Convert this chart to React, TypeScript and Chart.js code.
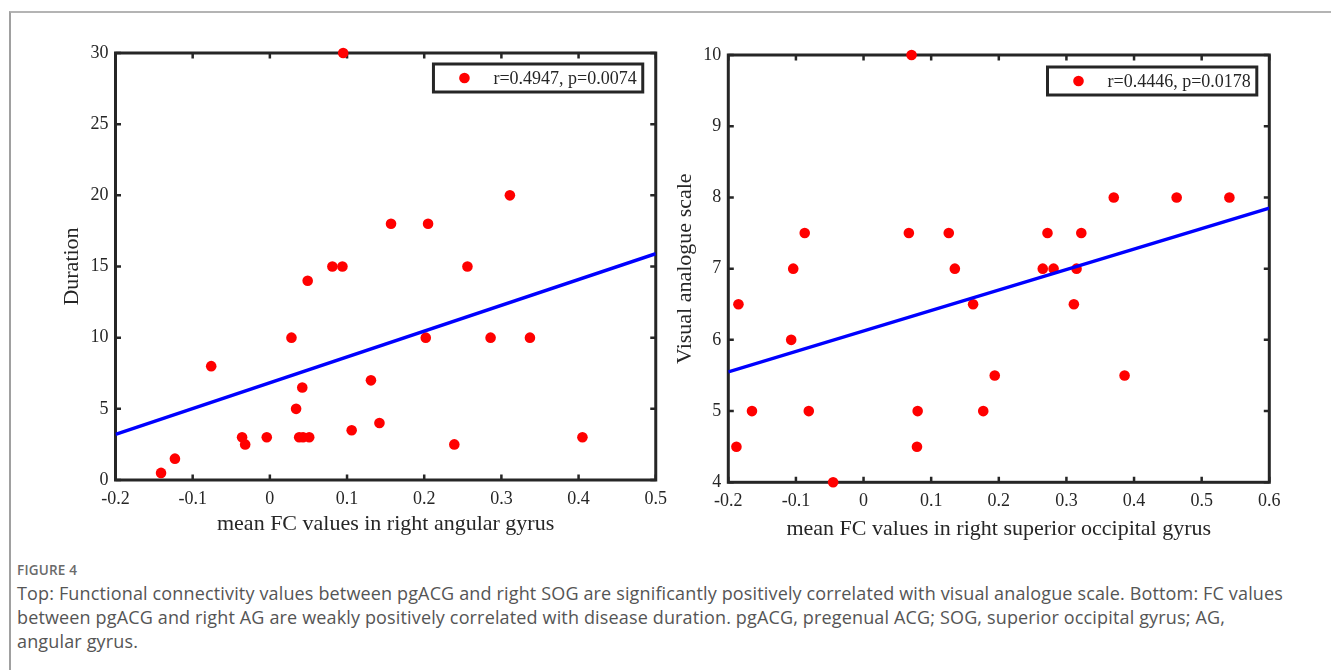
import React, { useEffect, useRef } from "react";
import { Chart, registerables } from "chart.js";

Chart.register(...registerables);

// ---- Left panel: mean FC in right angular gyrus vs Duration ----
const fcAngular = [
  -0.141, -0.123, -0.076, -0.036, -0.032, -0.004, 0.028, 0.034, 0.042, 0.038, 0.043, 0.051,
  0.049, 0.081, 0.094, 0.095, 0.106, 0.131, 0.142, 0.157, 0.202, 0.205, 0.239, 0.256, 0.286,
  0.311, 0.337, 0.405,
];
const duration = [
  0.5, 1.5, 8, 3, 2.5, 3, 10, 5, 6.5, 3, 3, 3, 14, 15, 15, 30, 3.5, 7, 4, 18, 10, 18, 2.5, 15,
  10, 20, 10, 3,
];
const fitAngularX = [-0.2, 0.5];
const fitAngularY = [3.2, 15.9];
const xTicksAngular = [-0.2, -0.1, 0, 0.1, 0.2, 0.3, 0.4, 0.5];
const yTicksDuration = [0, 5, 10, 15, 20, 25, 30];
const legendAngular = "r=0.4947, p=0.0074";

// ---- Right panel: mean FC in right superior occipital gyrus vs VAS ----
const fcSOG = [
  -0.188, -0.185, -0.165, -0.107, -0.104, -0.087, -0.081, -0.045, 0.067, 0.071, 0.079, 0.08,
  0.126, 0.135, 0.162, 0.177, 0.194, 0.265, 0.272, 0.281, 0.311, 0.315, 0.322, 0.37, 0.386,
  0.463, 0.541,
];
const vas = [
  4.5, 6.5, 5, 6, 7, 7.5, 5, 4, 7.5, 10, 4.5, 5, 7.5, 7, 6.5, 5, 5.5, 7, 7.5, 7, 6.5, 7, 7.5, 8,
  5.5, 8, 8,
];
const fitSOGX = [-0.2, 0.6];
const fitSOGY = [5.55, 7.85];
const xTicksSOG = [-0.2, -0.1, 0, 0.1, 0.2, 0.3, 0.4, 0.5, 0.6];
const yTicksVAS = [4, 5, 6, 7, 8, 9, 10];
const legendSOG = "r=0.4446, p=0.0178";

const SERIF = "'Liberation Serif', 'Times New Roman', serif";
const AXIS_COLOR = "#262626";

const framePlugin = {
  id: "matlabFrame",
  beforeDatasetsDraw(chart: any) {
    const { ctx, chartArea: a, scales } = chart;
    const x = scales.x;
    const y = scales.y;
    const L = 5.5;
    ctx.save();
    ctx.strokeStyle = AXIS_COLOR;
    ctx.lineWidth = 2.5;
    ctx.beginPath();
    x.ticks.forEach((t: any) => {
      const px = x.getPixelForValue(t.value);
      ctx.moveTo(px, a.bottom);
      ctx.lineTo(px, a.bottom - L);
      ctx.moveTo(px, a.top);
      ctx.lineTo(px, a.top + L);
    });
    y.ticks.forEach((t: any) => {
      const py = y.getPixelForValue(t.value);
      ctx.moveTo(a.left, py);
      ctx.lineTo(a.left + L, py);
      ctx.moveTo(a.right, py);
      ctx.lineTo(a.right - L, py);
    });
    ctx.stroke();
    ctx.lineWidth = 3;
    ctx.strokeRect(a.left, a.top, a.right - a.left, a.bottom - a.top);
    ctx.restore();
  },
};

const boxLegendPlugin = {
  id: "boxLegend",
  afterDraw(chart: any) {
    const opts = chart.options.plugins.boxLegend || {};
    const ds = chart.data.datasets[opts.datasetIndex ?? 0];
    if (!ds) return;
    const { ctx, chartArea: a } = chart;
    ctx.save();
    ctx.font = `18px ${SERIF}`;
    const tw = ctx.measureText(ds.label).width;
    const w = 60 + tw + 6;
    const h = 28;
    const right = a.right - (opts.offsetRight ?? 12);
    const left = right - w;
    const top = a.top + (opts.offsetTop ?? 11);
    ctx.fillStyle = "#ffffff";
    ctx.fillRect(left, top, w, h);
    ctx.strokeStyle = AXIS_COLOR;
    ctx.lineWidth = 3;
    ctx.strokeRect(left, top, w, h);
    ctx.fillStyle = ds.backgroundColor;
    ctx.beginPath();
    ctx.arc(left + 31, top + h / 2, 5.3, 0, Math.PI * 2);
    ctx.fill();
    ctx.fillStyle = AXIS_COLOR;
    ctx.textBaseline = "middle";
    ctx.textAlign = "left";
    ctx.fillText(ds.label, left + 60, top + h / 2 + 1);
    ctx.restore();
  },
};

type PanelProps = {
  xs: number[];
  ys: number[];
  fitX: number[];
  fitY: number[];
  xTicks: number[];
  yTicks: number[];
  xTitle: string;
  yTitle: string;
  legend: string;
  left: number;
  width: number;
  yAxisWidth: number;
  xAxisHeight: number;
  padTop: number;
  padRight: number;
  yTitlePad: number;
  xTitlePad: number;
  legendRight: number;
  legendTop: number;
};

const CANVAS_H = 520;
const CANVAS_TOP = 30;

function ScatterPanel(p: PanelProps) {
  const ref = useRef<HTMLCanvasElement | null>(null);
  useEffect(() => {
    if (!ref.current) return;
    const xMin = p.xTicks[0];
    const xMax = p.xTicks[p.xTicks.length - 1];
    const yMin = p.yTicks[0];
    const yMax = p.yTicks[p.yTicks.length - 1];
    const fmt = (v: any) => String(Math.round(Number(v) * 10) / 10);
    const chart = new Chart(ref.current, {
      type: "scatter",
      data: {
        datasets: [
          {
            type: "line",
            label: "fit",
            data: p.fitX.map((x, i) => ({ x, y: p.fitY[i] })),
            borderColor: "#0000ff",
            borderWidth: 3.5,
            pointRadius: 0,
            fill: false,
            tension: 0,
          } as any,
          {
            label: p.legend,
            data: p.xs.map((x, i) => ({ x, y: p.ys[i] })),
            backgroundColor: "#ff0000",
            borderColor: "#ff0000",
            pointRadius: 5.3,
            pointBorderWidth: 0,
            clip: false,
          } as any,
        ],
      },
      options: {
        animation: false,
        responsive: false,
        maintainAspectRatio: false,
        layout: { padding: { top: p.padTop, right: p.padRight, left: 0, bottom: 0 } },
        plugins: {
          legend: { display: false },
          tooltip: { enabled: false },
          boxLegend: { datasetIndex: 1, offsetRight: p.legendRight, offsetTop: p.legendTop },
        } as any,
        scales: {
          x: {
            type: "linear",
            min: xMin,
            max: xMax,
            afterBuildTicks: (s: any) => {
              s.ticks = p.xTicks.map((v) => ({ value: v }));
            },
            afterFit: (s: any) => {
              s.height = p.xAxisHeight;
            },
            grid: { display: false, drawTicks: false, tickLength: 0 },
            border: { display: false },
            ticks: {
              callback: fmt,
              color: AXIS_COLOR,
              font: { family: SERIF, size: 18 },
              padding: 8,
              maxRotation: 0,
              autoSkip: false,
            },
            title: {
              display: true,
              text: p.xTitle,
              color: AXIS_COLOR,
              font: { family: SERIF, size: 22 },
              padding: { top: 0, bottom: p.xTitlePad },
            },
          },
          y: {
            type: "linear",
            min: yMin,
            max: yMax,
            afterBuildTicks: (s: any) => {
              s.ticks = p.yTicks.map((v) => ({ value: v }));
            },
            afterFit: (s: any) => {
              s.width = p.yAxisWidth;
            },
            grid: { display: false, drawTicks: false, tickLength: 0 },
            border: { display: false },
            ticks: {
              callback: fmt,
              color: AXIS_COLOR,
              font: { family: SERIF, size: 18 },
              padding: 7,
              autoSkip: false,
            },
            title: {
              display: true,
              text: p.yTitle,
              color: AXIS_COLOR,
              font: { family: SERIF, size: 22 },
              padding: { top: p.yTitlePad, bottom: 0 },
            },
          },
        },
      },
      plugins: [framePlugin, boxLegendPlugin],
    } as any);
    return () => chart.destroy();
  }, []);
  return (
    <canvas
      ref={ref}
      width={p.width}
      height={CANVAS_H}
      style={{ position: "absolute", left: p.left, top: CANVAS_TOP, width: p.width, height: CANVAS_H }}
    />
  );
}

export default function App() {
  return (
    <div
      style={{
        position: "absolute",
        left: 0,
        top: 0,
        width: 1331,
        height: 670,
        overflow: "hidden",
        background: "#ffffff",
      }}
    >
      <div
        style={{
          position: "absolute",
          left: 9,
          top: 11,
          width: 1400,
          height: 800,
          borderTop: "2px solid #b4b4b4",
          borderLeft: "2px solid #a0a0a0",
        }}
      />
      <ScatterPanel
        xs={fcAngular}
        ys={duration}
        fitX={fitAngularX}
        fitY={fitAngularY}
        xTicks={xTicksAngular}
        yTicks={yTicksDuration}
        xTitle="mean FC values in right angular gyrus"
        yTitle="Duration"
        legend={legendAngular}
        left={20}
        width={655}
        yAxisWidth={95.5}
        xAxisHeight={70}
        padTop={23}
        padRight={19}
        yTitlePad={39}
        xTitlePad={13}
        legendRight={13}
        legendTop={11}
      />
      <ScatterPanel
        xs={fcSOG}
        ys={vas}
        fitX={fitSOGX}
        fitY={fitSOGY}
        xTicks={xTicksSOG}
        yTicks={yTicksVAS}
        xTitle="mean FC values in right superior occipital gyrus"
        yTitle="Visual analogue scale"
        legend={legendSOG}
        left={665}
        width={650}
        yAxisWidth={63.3}
        xAxisHeight={67.7}
        padTop={25}
        padRight={45.7}
        yTitlePad={7}
        xTitlePad={8}
        legendRight={12.5}
        legendTop={12}
      />
      <div
        style={{
          position: "absolute",
          left: 17,
          top: 560,
          fontFamily: "'Open Sans', 'Noto Sans', sans-serif",
          color: "#555555",
          whiteSpace: "nowrap",
        }}
      >
        <div style={{ fontSize: 13.5, fontWeight: 600, lineHeight: "20px", color: "#6a6a6a", letterSpacing: 0.2 }}>
          FIGURE 4
        </div>
        <div style={{ fontSize: 18, lineHeight: "24px", marginTop: 1, letterSpacing: 0.15 }}>
          Top: Functional connectivity values between pgACG and right SOG are significantly positively correlated with visual analogue scale. Bottom: FC values
          <br />
          between pgACG and right AG are weakly positively correlated with disease duration. pgACG, pregenual ACG; SOG, superior occipital gyrus; AG,
          <br />
          angular gyrus.
        </div>
      </div>
    </div>
  );
}
